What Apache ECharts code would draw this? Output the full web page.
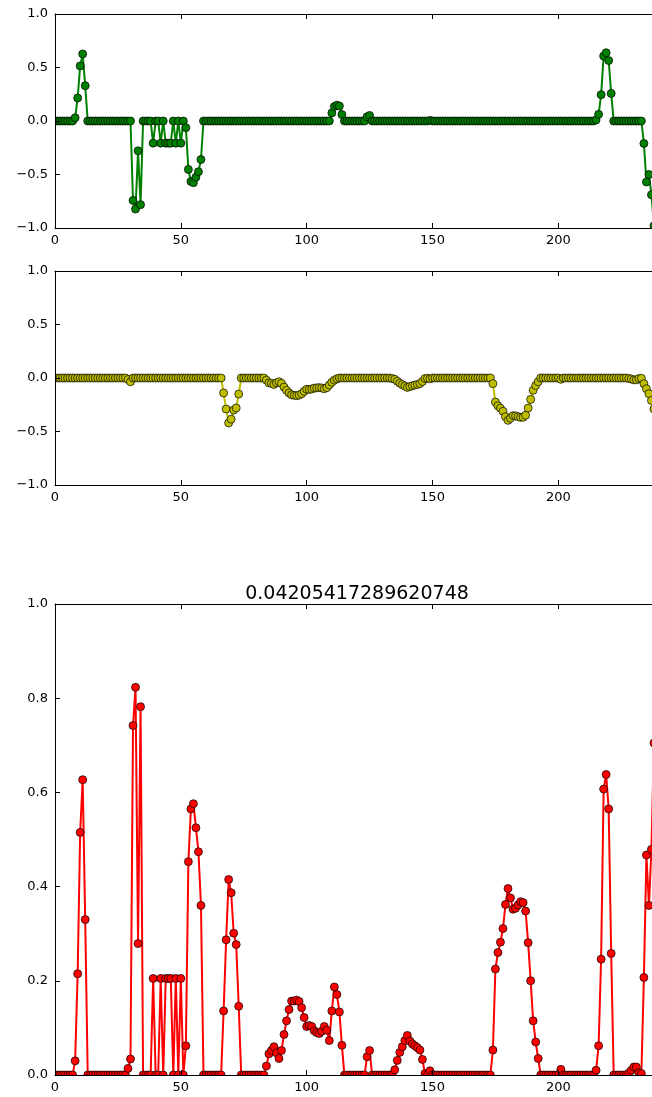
<!DOCTYPE html>
<html>
<head>
<meta charset="utf-8">
<script src="https://cdn.jsdelivr.net/npm/echarts@6/dist/echarts.min.js"></script>
<style>
  html, body { margin: 0; padding: 0; background: #fff; overflow: hidden; }
  #chart { width: 662px; height: 1097px; }
</style>
</head>
<body>
<div id="chart"></div>
<script>
// Sample index runs 0..239; three traces share it.
const titleText = '0.04205417289620748';
const xTicks = [0, 50, 100, 150, 200];

// Upper trace (green), range -1..1
const greenValues = [
  0, 0, 0, 0, 0, 0, 0, 0, 0.03, 0.215, 0.515, 0.627, 0.33, 0, 0, 0, 0, 0, 0, 0,
  0, 0, 0, 0, 0, 0, 0, 0, 0, 0, 0, -0.742, -0.823, -0.279, -0.782, 0, 0, 0, 0, -0.207,
  0, 0, -0.207, 0, -0.207, -0.207, -0.207, 0, -0.207, 0, -0.207, 0, -0.062, -0.453, -0.565, -0.576, -0.525, -0.474, -0.36, 0,
  0, 0, 0, 0, 0, 0, 0, 0, 0, 0, 0, 0, 0, 0, 0, 0, 0, 0, 0, 0,
  0, 0, 0, 0, 0, 0, 0, 0, 0, 0, 0, 0, 0, 0, 0, 0, 0, 0, 0, 0,
  0, 0, 0, 0, 0, 0, 0, 0, 0, 0, 0.075, 0.135, 0.148, 0.14, 0.06, 0, 0, 0, 0, 0,
  0, 0, 0, 0, 0.039, 0.052, 0, 0, 0, 0, 0, 0, 0, 0, 0, 0, 0, 0, 0, 0,
  0, 0, 0, 0, 0, 0, 0, 0, 0, 0.005, 0, 0, 0, 0, 0, 0, 0, 0, 0, 0,
  0, 0, 0, 0, 0, 0, 0, 0, 0, 0, 0, 0, 0, 0, 0, 0, 0, 0, 0, 0,
  0, 0, 0, 0, 0, 0, 0, 0, 0, 0, 0, 0, 0, 0, 0, 0, 0, 0, 0, 0,
  0, 0, 0, 0, 0, 0, 0, 0, 0, 0, 0, 0, 0, 0, 0, 0.01, 0.062, 0.246, 0.607, 0.638,
  0.565, 0.258, 0, 0, 0, 0, 0, 0, 0, 0, 0, 0, 0, 0, -0.21, -0.57, -0.5, -0.69, -0.98, -0.9
];

// Middle trace (yellow), range -1..1
const yellowValues = [
  0, 0, 0, 0, 0, 0, 0, 0, 0, 0, 0, 0, 0, 0, 0, 0, 0, 0, 0, 0,
  0, 0, 0, 0, 0, 0, 0, 0, 0, -0.014, -0.035, 0, 0, 0, 0, 0, 0, 0, 0, 0,
  0, 0, 0, 0, 0, 0, 0, 0, 0, 0, 0, 0, 0, 0, 0, 0, 0, 0, 0, 0,
  0, 0, 0, 0, 0, 0, 0, -0.14, -0.29, -0.42, -0.385, -0.3, -0.28, -0.15, 0, 0, 0, 0, 0, 0,
  0, 0, 0, 0, -0.02, -0.045, -0.05, -0.06, -0.045, -0.035, -0.05, -0.085, -0.115, -0.14, -0.157, -0.162, -0.165, -0.16, -0.147, -0.125,
  -0.105, -0.107, -0.103, -0.095, -0.092, -0.09, -0.093, -0.1, -0.09, -0.065, -0.04, -0.02, -0.008, 0, 0, 0, 0, 0, 0, 0,
  0, 0, 0, 0, 0, 0, 0, 0, 0, 0, 0, 0, 0, 0, -0.005, -0.012, -0.03, -0.048, -0.062, -0.075,
  -0.088, -0.08, -0.072, -0.066, -0.06, -0.052, -0.033, -0.005, -0.003, -0.008, 0, 0, 0, 0, 0, 0, 0, 0, 0, 0,
  0, 0, 0, 0, 0, 0, 0, 0, 0, 0, 0, 0, 0, 0, -0.053, -0.225, -0.26, -0.282, -0.311, -0.362,
  -0.396, -0.376, -0.352, -0.354, -0.361, -0.368, -0.366, -0.348, -0.281, -0.2, -0.115, -0.07, -0.035, 0, 0, 0, 0, 0, 0, 0,
  0, -0.012, 0, 0, 0, 0, 0, 0, 0, 0, 0, 0, 0, 0, 0, 0, 0, 0, 0, 0,
  0, 0, 0, 0, 0, 0, 0, 0, -0.004, -0.01, -0.017, -0.017, -0.005, -0.003, -0.053, -0.1, -0.147, -0.21, -0.29, -0.33
];

// Lower trace (red), range 0..1
const redValues = [
  0, 0, 0, 0, 0, 0, 0, 0, 0.03, 0.215, 0.515, 0.627, 0.33, 0, 0, 0, 0, 0, 0, 0,
  0, 0, 0, 0, 0, 0, 0, 0, 0, 0.014, 0.034, 0.742, 0.823, 0.279, 0.782, 0, 0, 0, 0, 0.205,
  0, 0, 0.205, 0, 0.205, 0.205, 0.205, 0, 0.205, 0, 0.205, 0, 0.062, 0.453, 0.565, 0.576, 0.525, 0.474, 0.36, 0,
  0, 0, 0, 0, 0, 0, 0, 0.136, 0.287, 0.415, 0.387, 0.301, 0.277, 0.146, 0, 0, 0, 0, 0, 0,
  0, 0, 0, 0, 0.019, 0.045, 0.052, 0.06, 0.047, 0.035, 0.052, 0.086, 0.115, 0.139, 0.157, 0.157, 0.159, 0.156, 0.143, 0.122,
  0.103, 0.105, 0.103, 0.094, 0.09, 0.088, 0.093, 0.103, 0.095, 0.073, 0.136, 0.187, 0.171, 0.134, 0.063, 0, 0, 0, 0, 0,
  0, 0, 0, 0, 0.039, 0.052, 0, 0, 0, 0, 0, 0, 0, 0, 0, 0.011, 0.031, 0.048, 0.06, 0.073,
  0.084, 0.072, 0.066, 0.062, 0.058, 0.053, 0.033, 0.003, 0, 0.009, 0, 0, 0, 0, 0, 0, 0, 0, 0, 0,
  0, 0, 0, 0, 0, 0, 0, 0, 0, 0, 0, 0, 0, 0, 0.053, 0.225, 0.26, 0.282, 0.311, 0.362,
  0.396, 0.376, 0.352, 0.354, 0.361, 0.368, 0.366, 0.348, 0.281, 0.2, 0.115, 0.07, 0.035, 0, 0, 0, 0, 0, 0, 0,
  0, 0.012, 0, 0, 0, 0, 0, 0, 0, 0, 0, 0, 0, 0, 0, 0.01, 0.062, 0.246, 0.607, 0.638,
  0.565, 0.258, 0, 0, 0, 0, 0, 0, 0.004, 0.01, 0.017, 0.017, 0.005, 0.003, 0.207, 0.467, 0.36, 0.479, 0.705, 0.75
];

const FONT = 'DejaVu Sans';
const X_MAX = 240;
const W = 662, H = 1097;
const panels = [
  { top: 14, height: 214, min: -1, max: 1, step: 0.5, values: greenValues, color: '#008000' },
  { top: 271, height: 214, min: -1, max: 1, step: 0.5, values: yellowValues, color: '#bfbf00' },
  { top: 604, height: 471, min: 0, max: 1, step: 0.2, values: redValues, color: '#ff0000' }
];
const LEFT = 55, WIDTH = 604;

const fmtY = v => v.toFixed(1).replace('-', '\u2212');
const fmtX = v => (xTicks.indexOf(v) >= 0 ? String(v) : '');

const grids = [], xAxes = [], yAxes = [], series = [];
panels.forEach((p, k) => {
  grids.push({ left: LEFT, top: p.top, width: WIDTH, height: p.height });
  const axisCommon = {
    type: 'value', gridIndex: k, z: 10,
    axisLine: { show: true, onZero: false, lineStyle: { color: '#000', width: 1 } },
    axisTick: { show: true, inside: true, length: 5, lineStyle: { color: '#000', width: 1 } },
    splitLine: { show: false }
  };
  xAxes.push(Object.assign({}, axisCommon, {
    position: 'bottom', min: 0, max: X_MAX, interval: 50,
    axisLabel: { show: true, margin: 6, color: '#000', fontFamily: FONT, fontSize: 13, formatter: fmtX }
  }));
  xAxes.push(Object.assign({}, axisCommon, {
    position: 'top', min: 0, max: X_MAX, interval: 50,
    axisLabel: { show: false }
  }));
  yAxes.push(Object.assign({}, axisCommon, {
    position: 'left', min: p.min, max: p.max, interval: p.step,
    axisLabel: { show: true, margin: 7, color: '#000', fontFamily: FONT, fontSize: 13, formatter: fmtY }
  }));
  series.push({
    type: 'line', xAxisIndex: 2 * k, yAxisIndex: k, z: 2,
    data: p.values.map((v, i) => [i, v]),
    symbol: 'circle', symbolSize: 8, showAllSymbol: true,
    lineStyle: { color: p.color, width: 2 },
    itemStyle: { color: p.color, borderColor: '#000', borderWidth: 0.7 },
    emphasis: { disabled: true }, silent: true, animation: false
  });
});

// White frames around the plot areas so markers sitting on an edge are cut at the spine.
const mask = (x, y, w, h) => ({ type: 'rect', z: 5, silent: true, shape: { x, y, width: w, height: h }, style: { fill: '#fff' } });
const graphics = [
  mask(0, 0, LEFT, H),
  mask(0, 0, W, panels[0].top),
  mask(0, panels[0].top + panels[0].height, W, panels[1].top - panels[0].top - panels[0].height),
  mask(0, panels[1].top + panels[1].height, W, panels[2].top - panels[1].top - panels[1].height),
  mask(0, panels[2].top + panels[2].height, W, H - panels[2].top - panels[2].height)
];

const chart = echarts.init(document.getElementById('chart'), null, { renderer: 'canvas', width: W, height: H });
chart.setOption({
  animation: false,
  backgroundColor: '#fff',
  title: {
    text: titleText, left: LEFT + WIDTH / 2 - 5, top: 580, textAlign: 'center', z: 10,
    textStyle: { fontFamily: FONT, fontSize: 19, fontWeight: 'normal', color: '#000' }
  },
  grid: grids,
  xAxis: xAxes,
  yAxis: yAxes,
  series: series,
  graphic: graphics
});
</script>
</body>
</html>
